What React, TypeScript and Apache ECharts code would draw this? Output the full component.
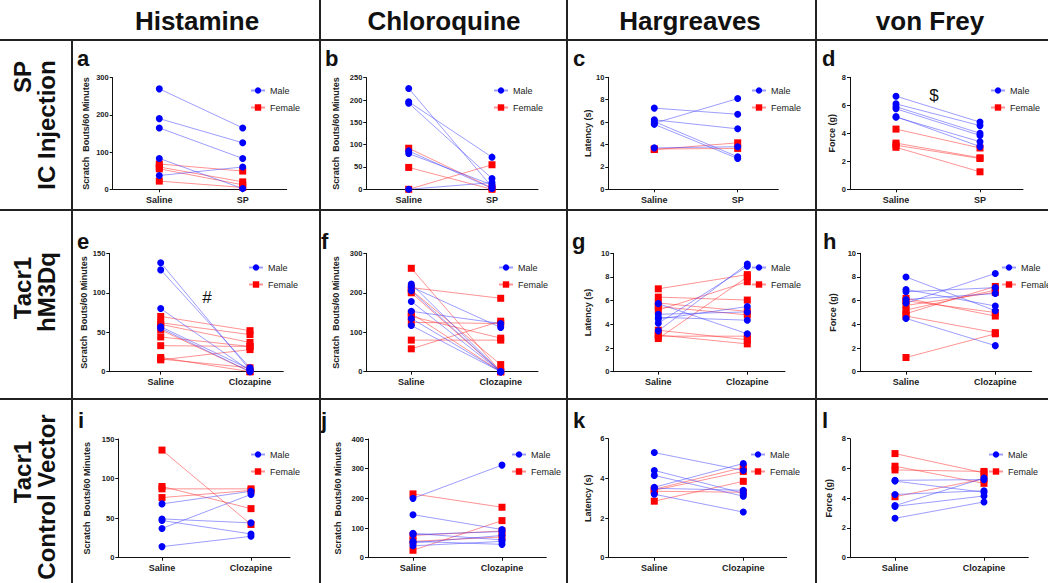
import React, { useEffect, useRef } from "react";
import * as echarts from "echarts";

// ---------- text ----------
const colTitles = ["Histamine", "Chloroquine", "Hargreaves", "von Frey"];
const rowTitles = [["SP", "IC Injection"], ["Tacr1", "hM3Dq"], ["Tacr1", "Control Vector"]];
const catsSP = ["Saline", "SP"];
const catsClz = ["Saline", "Clozapine"];
const panelLetters = ["a", "b", "c", "d", "e", "f", "g", "h", "i", "j", "k", "l"];
const yNames = ["Scratch  Bouts/60 Minutes", "Scratch  Bouts/60 Minutes", "Latency (s)", "Force (g)"];
const legendNames = ["Male", "Female"];

// ---------- data: [saline, treatment] pairs ----------
const aMale = [[270, 165], [190, 125], [165, 83], [83, 2], [37, 60]];
const aFemale = [[68, 49], [60, 20], [55, 12], [22, 5]];
const bMale = [[226, 5], [196, 72], [193, 24], [86, 2], [80, 10], [0, 15]];
const bFemale = [[92, 3], [49, 0], [0, 55]];
const cMale = [[7.25, 6.7], [6.2, 5.4], [5.9, 8.1], [6.05, 2.9], [5.8, 2.75], [3.7, 3.8]];
const cFemale = [[3.55, 4.15], [3.6, 3.65]];
const dMale = [[6.65, 4.8], [6.1, 4.55], [5.9, 4.0], [5.75, 3.85], [5.15, 3.4], [5.2, 3.05]];
const dFemale = [[4.3, 2.95], [3.3, 2.25], [3.15, 2.2], [3.0, 1.25]];
const eMale = [[138, 2], [129, 5], [80, 1], [57, 3], [55, 0]];
const eFemale = [[70, 52], [62, 47], [60, 37], [53, 0], [44, 32], [33, 32], [18, 0], [15, 28], [16, 5]];
const fMale = [[222, 0], [215, 112], [205, 0], [178, 0], [153, 122], [135, 0], [117, 0]];
const fFemale = [[262, 0], [213, 186], [207, 18], [200, 0], [148, 0], [140, 85], [125, 122], [80, 80], [58, 128]];
const gMale = [[3.45, 9.1], [4.1, 8.9], [5.75, 3.2], [4.85, 5.05], [4.6, 4.35], [4.45, 5.5]];
const gFemale = [[7.0, 8.2], [6.3, 6.05], [2.8, 8.0], [5.2, 7.6], [5.5, 4.8], [5.8, 5.1], [3.5, 2.7], [3.1, 2.35], [3.0, 3.0]];
const hMale = [[8.0, 5.15], [6.95, 5.55], [5.8, 8.3], [6.1, 6.6], [6.75, 7.1], [4.5, 2.2]];
const hFemale = [[1.2, 3.2], [4.7, 3.3], [6.2, 4.7], [4.9, 7.2], [5.2, 6.9], [5.6, 6.7], [6.0, 5.0]];
const iMale = [[68, 84], [37, 80], [49, 44], [47, 30], [14, 27]];
const iFemale = [[136, 42], [90, 62], [87, 87], [76, 85]];
const jMale = [[200, 312], [145, 95], [82, 60], [78, 88], [55, 45], [50, 75], [40, 55]];
const jFemale = [[215, 170], [25, 125], [75, 90], [55, 70]];
const kMale = [[5.3, 4.4], [4.4, 3.25], [4.15, 3.1], [3.55, 4.75], [3.5, 3.4], [3.2, 2.3]];
const kFemale = [[3.45, 4.55], [3.4, 4.35], [3.35, 3.3], [2.85, 3.85]];
const lMale = [[5.2, 5.25], [5.15, 4.4], [4.25, 4.5], [3.5, 5.35], [3.45, 4.15], [2.65, 3.75]];
const lFemale = [[7.0, 5.7], [6.15, 5.0], [5.9, 5.8], [4.1, 5.3]];

const maleData = [aMale, bMale, cMale, dMale, eMale, fMale, gMale, hMale, iMale, jMale, kMale, lMale];
const femaleData = [aFemale, bFemale, cFemale, dFemale, eFemale, fFemale, gFemale, hFemale, iFemale, jFemale, kFemale, lFemale];

// y-axis ranges [max, interval]
const yMax = [300, 250, 10, 8, 150, 300, 10, 10, 150, 400, 6, 8];
const yStep = [100, 50, 2, 2, 50, 100, 2, 2, 50, 100, 2, 2];

// ---------- layout ----------
const layout = [
  { L: 112.7, R: 286.7, T: 77.7, B: 189.3, S: 159.3, C: 242.7, gap: 22, lx: 250, ly: 86 },
  { L: 366.3, R: 538, T: 77.7, B: 189.3, S: 408.7, C: 492, gap: 26, lx: 493, ly: 86 },
  { L: 608.3, R: 778.3, T: 77.3, B: 189.3, S: 654.3, C: 737.7, gap: 16, lx: 751, ly: 86 },
  { L: 850, R: 1023, T: 77.3, B: 189.3, S: 896, C: 980, gap: 14, lx: 990, ly: 86 },
  { L: 109.3, R: 283.3, T: 253.3, B: 371.7, S: 160.7, C: 250, gap: 20, lx: 248, ly: 263 },
  { L: 366.3, R: 538, T: 253.3, B: 371.7, S: 411.3, C: 500.7, gap: 26, lx: 498, ly: 263 },
  { L: 613.3, R: 785, T: 253.3, B: 371.7, S: 658.3, C: 747.3, gap: 21, lx: 751, ly: 263 },
  { L: 860, R: 1031.7, T: 253.3, B: 371.7, S: 906, C: 995.3, gap: 23, lx: 1001, ly: 263 },
  { L: 118.3, R: 290, T: 439, B: 557.7, S: 162, C: 251, gap: 27, lx: 250, ly: 450 },
  { L: 368, R: 546.3, T: 439, B: 557.7, S: 413, C: 502, gap: 26, lx: 511, ly: 450 },
  { L: 608.3, R: 786.7, T: 438.7, B: 557.7, S: 654.3, C: 743.3, gap: 16, lx: 750, ly: 450 },
  { L: 850, R: 1028.3, T: 438.7, B: 557.7, S: 895, C: 984, gap: 17, lx: 988, ly: 450 },
];
const letterPos = [
  [77, 58], [325, 58], [573, 58], [822, 58],
  [77, 241], [321, 241], [572, 241], [823, 241],
  [78, 420], [321, 420], [573, 420], [822, 420],
];

const FONT = "'Liberation Sans', Arial, sans-serif";
const BLUE = "#0000ff";
const RED = "#ff0000";
const BLUE_L = "rgba(60,60,255,0.5)";
const RED_L = "rgba(255,40,40,0.5)";

function buildOption() {
  const grid: any[] = [];
  const xAxis: any[] = [];
  const yAxis: any[] = [];
  const series: any[] = [];
  const legend: any[] = [];
  const graphic: any[] = [];

  layout.forEach((p, i) => {
    const d = p.C - p.S;
    const cats = i < 4 ? catsSP : catsClz;
    grid.push({ left: p.L, top: p.T, width: p.R - p.L, height: p.B - p.T, containLabel: false });
    xAxis.push({
      type: "value",
      gridIndex: i,
      min: -(p.S - p.L) / d,
      max: (p.R - p.S) / d,
      axisLine: { show: true, onZero: false, lineStyle: { color: "#111", width: 1 } },
      axisTick: { show: true, customValues: [0, 1], length: 3, lineStyle: { color: "#111" } },
      axisLabel: {
        customValues: [0, 1],
        formatter: (v: number) => (v === 0 ? cats[0] : cats[1]),
        fontSize: 9,
        fontWeight: "bold",
        fontFamily: FONT,
        color: "#222",
        margin: 6,
      },
      splitLine: { show: false },
    });
    yAxis.push({
      type: "value",
      gridIndex: i,
      min: 0,
      max: yMax[i],
      interval: yStep[i],
      name: yNames[i % 4],
      nameLocation: "middle",
      nameGap: p.gap,
      nameTextStyle: { fontSize: 9, fontWeight: "bold", fontFamily: FONT, color: "#222" },
      axisLine: { show: true, onZero: false, lineStyle: { color: "#111", width: 1 } },
      axisTick: { show: true, length: 3, lineStyle: { color: "#111" } },
      axisLabel: { fontSize: 7.5, fontWeight: "bold", fontFamily: FONT, color: "#222", margin: 4 },
      splitLine: { show: false },
    });
    maleData[i].forEach((pair) => {
      series.push({
        type: "line",
        name: legendNames[0],
        xAxisIndex: i,
        yAxisIndex: i,
        data: [[0, pair[0]], [1, pair[1]]],
        symbol: "circle",
        symbolSize: 7,
        itemStyle: { color: BLUE },
        lineStyle: { color: BLUE_L, width: 1 },
        silent: true,
        z: 3,
      });
    });
    femaleData[i].forEach((pair) => {
      series.push({
        type: "line",
        name: legendNames[1],
        xAxisIndex: i,
        yAxisIndex: i,
        data: [[0, pair[0]], [1, pair[1]]],
        symbol: "rect",
        symbolSize: 7,
        itemStyle: { color: RED },
        lineStyle: { color: RED_L, width: 1 },
        silent: true,
        z: 2,
      });
    });
    legend.push({
      data: legendNames,
      orient: "vertical",
      left: p.lx,
      top: p.ly,
      padding: 0,
      itemWidth: 14,
      itemHeight: 8,
      itemGap: 8,
      textStyle: { fontSize: 9, fontFamily: FONT, color: "#222", padding: [0, 0, 0, 0] },
      selectedMode: false,
    });
    graphic.push({
      type: "text",
      x: letterPos[i][0],
      y: letterPos[i][1],
      style: {
        text: panelLetters[i],
        fontSize: 22,
        fontWeight: "bold",
        fontFamily: FONT,
        fill: "#111",
        align: "left",
        verticalAlign: "middle",
      },
    });
  });

  // column titles
  const colX = [197, 444, 690, 930];
  colTitles.forEach((t, i) => {
    graphic.push({
      type: "text",
      x: colX[i],
      y: 21,
      style: { text: t, fontSize: 26, fontWeight: "bold", fontFamily: FONT, fill: "#111", align: "center", verticalAlign: "middle" },
    });
  });
  // row titles
  const rowY = [[77, 125], [288, 292], [472, 497]];
  rowTitles.forEach((lines, r) => {
    lines.forEach((t, k) => {
      graphic.push({
        type: "text",
        x: k === 0 ? 22 : 46,
        y: rowY[r][k],
        rotation: Math.PI / 2,
        style: { text: t, fontSize: 24, fontWeight: "bold", fontFamily: FONT, fill: "#111", align: "center", verticalAlign: "middle" },
      });
    });
  });
  // dividers
  const lineStyle = { stroke: "#222", lineWidth: 2 };
  [[0, 40, 1048, 40], [0, 210, 1048, 210], [0, 399, 1048, 399],
   [72, 40, 72, 583], [320, 0, 320, 583], [567, 0, 567, 583], [816, 0, 816, 583]].forEach((s) => {
    graphic.push({ type: "line", shape: { x1: s[0], y1: s[1], x2: s[2], y2: s[3] }, style: lineStyle, silent: true });
  });
  // annotations
  graphic.push({ type: "text", x: 934, y: 95, style: { text: "$", fontSize: 17, fontFamily: FONT, fill: "#111", align: "center", verticalAlign: "middle" } });
  graphic.push({ type: "text", x: 207, y: 297, style: { text: "#", fontSize: 17, fontFamily: FONT, fill: "#111", align: "center", verticalAlign: "middle" } });

  return {
    animation: false,
    backgroundColor: "#ffffff",
    grid,
    xAxis,
    yAxis,
    series,
    legend,
    graphic,
  };
}

export default function App() {
  const ref = useRef<HTMLDivElement>(null);
  useEffect(() => {
    if (!ref.current) return;
    const chart = echarts.init(ref.current, undefined, { renderer: "svg" });
    chart.setOption(buildOption() as any);
    return () => chart.dispose();
  }, []);
  return (
    <div
      ref={ref}
      style={{ position: "absolute", left: 0, top: 0, width: 1048, height: 583, background: "#fff" }}
    />
  );
}
